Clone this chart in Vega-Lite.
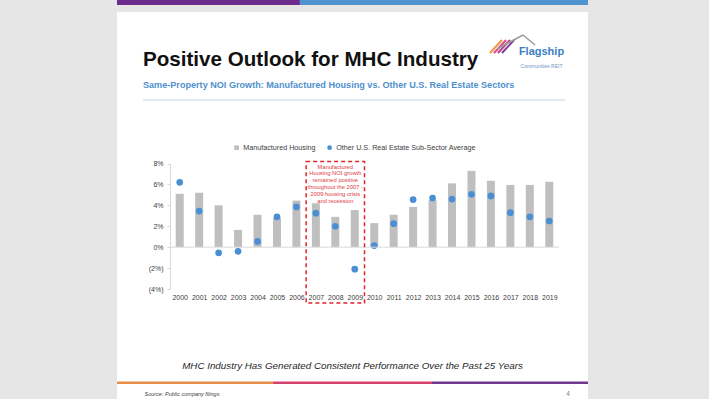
{
  "$schema": "https://vega.github.io/schema/vega-lite/v6.json",
  "width": 471,
  "height": 387,
  "autosize": {"type": "none"},
  "padding": {"left": 117, "top": 12, "right": 121, "bottom": 0},
  "background": "#e6e6e6",
  "config": {
    "font": "Liberation Sans",
    "view": {"fill": "white", "stroke": null},
    "axisX": {"grid": false, "domain": false, "ticks": false, "tickCount": 20, "labelAngle": 0, "labelFlush": false, "labelOverlap": false, "labelFontSize": 7, "labelColor": "#404040", "labelPadding": 4, "offset": -110,
      "titleX": 235, "titleY": 76, "titleAlign": "center", "titleBaseline": "middle", "titleFontSize": 9.8, "titleFontStyle": "italic", "titleFontWeight": "normal", "titleColor": "#262626"},
    "axisY": {"grid": false, "domainColor": "#d9d9d9", "tickColor": "#d9d9d9", "tickSize": 3, "labelFontSize": 7, "labelColor": "#404040", "labelPadding": 4, "offset": -53,
      "titleAngle": 0, "titleX": -26, "titleY": 381, "titleAlign": "left", "titleBaseline": "middle", "titleFontSize": 5.5, "titleFontStyle": "italic", "titleFontWeight": "normal", "titleColor": "#404040"}
  },
  "title": {
    "text": "Positive Outlook for MHC Industry",
    "subtitle": "Same-Property NOI Growth: Manufactured Housing vs. Other U.S. Real Estate Sectors",
    "anchor": "start",
    "frame": "group",
    "dx": 26,
    "offset": -90,
    "fontSize": 20.6,
    "fontWeight": "bold",
    "color": "#111111",
    "subtitleFontSize": 9.1,
    "subtitleFontWeight": "bold",
    "subtitleColor": "#4e8fcd",
    "subtitlePadding": 10
  },
  "data": {"values": [
    {"year": 2000, "mh": 5.1, "other": 6.2},
    {"year": 2001, "mh": 5.2, "other": 3.45},
    {"year": 2002, "mh": 4.0, "other": -0.55},
    {"year": 2003, "mh": 1.65, "other": -0.4},
    {"year": 2004, "mh": 3.1, "other": 0.55},
    {"year": 2005, "mh": 2.8, "other": 2.9},
    {"year": 2006, "mh": 4.45, "other": 3.85},
    {"year": 2007, "mh": 4.2, "other": 3.25},
    {"year": 2008, "mh": 2.9, "other": 2.0},
    {"year": 2009, "mh": 3.55, "other": -2.1},
    {"year": 2010, "mh": 2.3, "other": 0.15},
    {"year": 2011, "mh": 3.1, "other": 2.25},
    {"year": 2012, "mh": 3.85, "other": 4.55},
    {"year": 2013, "mh": 4.5, "other": 4.7},
    {"year": 2014, "mh": 6.1, "other": 4.6},
    {"year": 2015, "mh": 7.3, "other": 5.05},
    {"year": 2016, "mh": 6.35, "other": 4.9},
    {"year": 2017, "mh": 5.95, "other": 3.3},
    {"year": 2018, "mh": 5.95, "other": 2.9},
    {"year": 2019, "mh": 6.25, "other": 2.5}
  ]},
  "layer": [
    {
      "mark": {"type": "bar", "width": 8},
      "encoding": {
        "x": {"field": "year", "type": "quantitative",
          "scale": {"domain": [1999.5, 2019.5], "range": [53, 442], "nice": false, "zero": false, "padding": 0},
          "axis": {"values": [2000, 2001, 2002, 2003, 2004, 2005, 2006, 2007, 2008, 2009, 2010, 2011, 2012, 2013, 2014, 2015, 2016, 2017, 2018, 2019], "format": "d",
            "title": "MHC Industry Has Generated Consistent Performance Over the Past 25 Years"}},
        "y": {"field": "mh", "type": "quantitative",
          "scale": {"domain": [-4, 8], "range": [277, 151.5], "nice": false, "zero": false},
          "axis": {"values": [-4, -2, 0, 2, 4, 6, 8], "labelExpr": "datum.value < 0 ? '(' + format(-datum.value, 'd') + '%)' : format(datum.value, 'd') + '%'",
            "title": "Source: Public company filings"}},
        "color": {"datum": "Manufactured Housing", "type": "nominal",
          "scale": {"domain": ["Manufactured Housing", "Other U.S. Real Estate Sub-Sector Average"], "range": ["#bfbfbf", "#4a8fd3"]},
          "legend": {"orient": "none", "legendX": 116, "legendY": 132, "direction": "horizontal", "title": null, "labelFontSize": 7.2, "labelColor": "#404040", "symbolSize": 22, "columnPadding": 10, "labelOffset": 3, "symbolStrokeWidth": 0,
            "encode": {"symbols": {"update": {"shape": {"signal": "datum.value === 'Manufactured Housing' ? 'square' : 'circle'"}}}}}}
      }
    },
    {
      "mark": {"type": "point", "filled": true, "size": 45, "opacity": 1},
      "encoding": {
        "x": {"field": "year", "type": "quantitative", "scale": {"domain": [1999.5, 2019.5], "range": [53, 442], "nice": false, "zero": false, "padding": 0}},
        "y": {"field": "other", "type": "quantitative", "scale": {"domain": [-4, 8], "range": [277, 151.5], "nice": false, "zero": false}},
        "color": {"datum": "Other U.S. Real Estate Sub-Sector Average", "type": "nominal"}
      }
    },
    {
      "data": {"values": [{}]},
      "mark": {"type": "rect", "color": "#6e2c8c"},
      "encoding": {
        "x": {"datum": 1996.775, "type": "quantitative", "scale": {"domain": [1999.5, 2019.5], "range": [53, 442], "nice": false, "zero": false, "padding": 0}},
        "x2": {"datum": 2006.18},
        "y": {"datum": 23.63, "type": "quantitative", "scale": {"domain": [-4, 8], "range": [277, 151.5], "nice": false, "zero": false}},
        "y2": {"datum": 23.16}
      }
    },
    {
      "data": {"values": [{}]},
      "mark": {"type": "rect", "color": "#4f92d0"},
      "encoding": {
        "x": {"datum": 2006.18, "type": "quantitative", "scale": {"domain": [1999.5, 2019.5], "range": [53, 442], "nice": false, "zero": false, "padding": 0}},
        "x2": {"datum": 2020.99},
        "y": {"datum": 23.63, "type": "quantitative", "scale": {"domain": [-4, 8], "range": [277, 151.5], "nice": false, "zero": false}},
        "y2": {"datum": 23.16}
      }
    },
    {
      "data": {"values": [{}]},
      "mark": {"type": "rule", "color": "#c8d6e4", "strokeWidth": 1},
      "encoding": {
        "x": {"datum": 1998.11, "type": "quantitative", "scale": {"domain": [1999.5, 2019.5], "range": [53, 442], "nice": false, "zero": false, "padding": 0}},
        "x2": {"datum": 2019.81},
        "y": {"datum": 14.07, "type": "quantitative", "scale": {"domain": [-4, 8], "range": [277, 151.5], "nice": false, "zero": false}}
      }
    },
    {
      "data": {"values": [{}]},
      "mark": {"type": "rule", "color": "#e8904a", "strokeWidth": 2.5},
      "encoding": {
        "x": {"datum": 1996.775, "type": "quantitative", "scale": {"domain": [1999.5, 2019.5], "range": [53, 442], "nice": false, "zero": false, "padding": 0}},
        "x2": {"datum": 2004.8},
        "y": {"datum": -12.96, "type": "quantitative", "scale": {"domain": [-4, 8], "range": [277, 151.5], "nice": false, "zero": false}}
      }
    },
    {
      "data": {"values": [{}]},
      "mark": {"type": "rule", "color": "#d5406c", "strokeWidth": 2.5},
      "encoding": {
        "x": {"datum": 2004.8, "type": "quantitative", "scale": {"domain": [1999.5, 2019.5], "range": [53, 442], "nice": false, "zero": false, "padding": 0}},
        "x2": {"datum": 2012.97},
        "y": {"datum": -12.96, "type": "quantitative", "scale": {"domain": [-4, 8], "range": [277, 151.5], "nice": false, "zero": false}}
      }
    },
    {
      "data": {"values": [{}]},
      "mark": {"type": "rule", "color": "#70398f", "strokeWidth": 2.5},
      "encoding": {
        "x": {"datum": 2012.97, "type": "quantitative", "scale": {"domain": [1999.5, 2019.5], "range": [53, 442], "nice": false, "zero": false, "padding": 0}},
        "x2": {"datum": 2020.99},
        "y": {"datum": -12.96, "type": "quantitative", "scale": {"domain": [-4, 8], "range": [277, 151.5], "nice": false, "zero": false}}
      }
    },
    {
      "data": {"values": [{}]},
      "mark": {"type": "rule", "color": "#d9d9d9", "strokeWidth": 1},
      "encoding": {
        "x": {"datum": 1999.5, "type": "quantitative", "scale": {"domain": [1999.5, 2019.5], "range": [53, 442], "nice": false, "zero": false, "padding": 0}},
        "x2": {"datum": 2019.5},
        "y": {"datum": 0, "type": "quantitative", "scale": {"domain": [-4, 8], "range": [277, 151.5], "nice": false, "zero": false}}
      }
    },
    {
      "data": {"values": [{}]},
      "mark": {"type": "rect", "fill": null, "fillOpacity": 0, "stroke": "#e0242b", "strokeWidth": 1.5, "strokeDash": [4, 3]},
      "encoding": {
        "x": {"datum": 2006.5, "type": "quantitative", "scale": {"domain": [1999.5, 2019.5], "range": [53, 442], "nice": false, "zero": false, "padding": 0}},
        "x2": {"datum": 2009.5},
        "y": {"datum": 8.19, "type": "quantitative", "scale": {"domain": [-4, 8], "range": [277, 151.5], "nice": false, "zero": false}},
        "y2": {"datum": -5.34}
      }
    },
    {
      "data": {"values": [{}]},
      "mark": {"type": "text", "text": ["Manufactured", "Housing NOI growth", "remained positive", "throughout the 2007 -", "2009 housing crisis", "and recession"], "align": "center", "baseline": "top", "fontSize": 5.8, "lineHeight": 6.9, "color": "#e03a3e"},
      "encoding": {
        "x": {"datum": 2008, "type": "quantitative", "scale": {"domain": [1999.5, 2019.5], "range": [53, 442], "nice": false, "zero": false, "padding": 0}},
        "y": {"datum": 8.0, "type": "quantitative", "scale": {"domain": [-4, 8], "range": [277, 151.5], "nice": false, "zero": false}}
      }
    },
    {
      "data": {"values": [{}]},
      "mark": {"type": "rule", "color": "#f0954a", "strokeWidth": 2},
      "encoding": {
        "x": {"datum": 2015.95, "type": "quantitative", "scale": {"domain": [1999.5, 2019.5], "range": [53, 442], "nice": false, "zero": false, "padding": 0}},
        "x2": {"datum": 2016.57},
        "y": {"datum": 18.57, "type": "quantitative", "scale": {"domain": [-4, 8], "range": [277, 151.5], "nice": false, "zero": false}},
        "y2": {"datum": 19.81}
      }
    },
    {
      "data": {"values": [{}]},
      "mark": {"type": "rule", "color": "#e2487a", "strokeWidth": 2},
      "encoding": {
        "x": {"datum": 2016.16, "type": "quantitative", "scale": {"domain": [1999.5, 2019.5], "range": [53, 442], "nice": false, "zero": false, "padding": 0}},
        "x2": {"datum": 2016.78},
        "y": {"datum": 18.57, "type": "quantitative", "scale": {"domain": [-4, 8], "range": [277, 151.5], "nice": false, "zero": false}},
        "y2": {"datum": 19.81}
      }
    },
    {
      "data": {"values": [{}]},
      "mark": {"type": "rule", "color": "#b8408f", "strokeWidth": 2},
      "encoding": {
        "x": {"datum": 2016.36, "type": "quantitative", "scale": {"domain": [1999.5, 2019.5], "range": [53, 442], "nice": false, "zero": false, "padding": 0}},
        "x2": {"datum": 2016.98},
        "y": {"datum": 18.57, "type": "quantitative", "scale": {"domain": [-4, 8], "range": [277, 151.5], "nice": false, "zero": false}},
        "y2": {"datum": 19.81}
      }
    },
    {
      "data": {"values": [{}]},
      "mark": {"type": "rule", "color": "#7b3f98", "strokeWidth": 2},
      "encoding": {
        "x": {"datum": 2016.57, "type": "quantitative", "scale": {"domain": [1999.5, 2019.5], "range": [53, 442], "nice": false, "zero": false, "padding": 0}},
        "x2": {"datum": 2017.19},
        "y": {"datum": 18.57, "type": "quantitative", "scale": {"domain": [-4, 8], "range": [277, 151.5], "nice": false, "zero": false}},
        "y2": {"datum": 19.81}
      }
    },
    {
      "data": {"values": [{}]},
      "mark": {"type": "rule", "color": "#9a9a9a", "strokeWidth": 1.5},
      "encoding": {
        "x": {"datum": 2016.31, "type": "quantitative", "scale": {"domain": [1999.5, 2019.5], "range": [53, 442], "nice": false, "zero": false, "padding": 0}},
        "x2": {"datum": 2017.65},
        "y": {"datum": 18.95, "type": "quantitative", "scale": {"domain": [-4, 8], "range": [277, 151.5], "nice": false, "zero": false}},
        "y2": {"datum": 20.29}
      }
    },
    {
      "data": {"values": [{}]},
      "mark": {"type": "rule", "color": "#9a9a9a", "strokeWidth": 1.5},
      "encoding": {
        "x": {"datum": 2017.65, "type": "quantitative", "scale": {"domain": [1999.5, 2019.5], "range": [53, 442], "nice": false, "zero": false, "padding": 0}},
        "x2": {"datum": 2018.27},
        "y": {"datum": 20.29, "type": "quantitative", "scale": {"domain": [-4, 8], "range": [277, 151.5], "nice": false, "zero": false}},
        "y2": {"datum": 19.33}
      }
    },
    {
      "data": {"values": [{}]},
      "mark": {"type": "text", "text": "Flagship", "align": "center", "baseline": "middle", "fontSize": 11, "fontWeight": "bold", "color": "#3c7fc4"},
      "encoding": {
        "x": {"datum": 2018.6, "type": "quantitative", "scale": {"domain": [1999.5, 2019.5], "range": [53, 442], "nice": false, "zero": false, "padding": 0}},
        "y": {"datum": 18.69, "type": "quantitative", "scale": {"domain": [-4, 8], "range": [277, 151.5], "nice": false, "zero": false}}
      }
    },
    {
      "data": {"values": [{}]},
      "mark": {"type": "text", "text": "Communities REIT", "align": "center", "baseline": "middle", "fontSize": 5, "color": "#6d94bf"},
      "encoding": {
        "x": {"datum": 2018.6, "type": "quantitative", "scale": {"domain": [1999.5, 2019.5], "range": [53, 442], "nice": false, "zero": false, "padding": 0}},
        "y": {"datum": 17.37, "type": "quantitative", "scale": {"domain": [-4, 8], "range": [277, 151.5], "nice": false, "zero": false}}
      }
    },
    {
      "data": {"values": [{}]},
      "mark": {"type": "text", "text": "4", "align": "center", "baseline": "middle", "fontSize": 6.5, "color": "#7f7f7f"},
      "encoding": {
        "x": {"datum": 2019.96, "type": "quantitative", "scale": {"domain": [1999.5, 2019.5], "range": [53, 442], "nice": false, "zero": false, "padding": 0}},
        "y": {"datum": -14.04, "type": "quantitative", "scale": {"domain": [-4, 8], "range": [277, 151.5], "nice": false, "zero": false}}
      }
    }
  ]
}
